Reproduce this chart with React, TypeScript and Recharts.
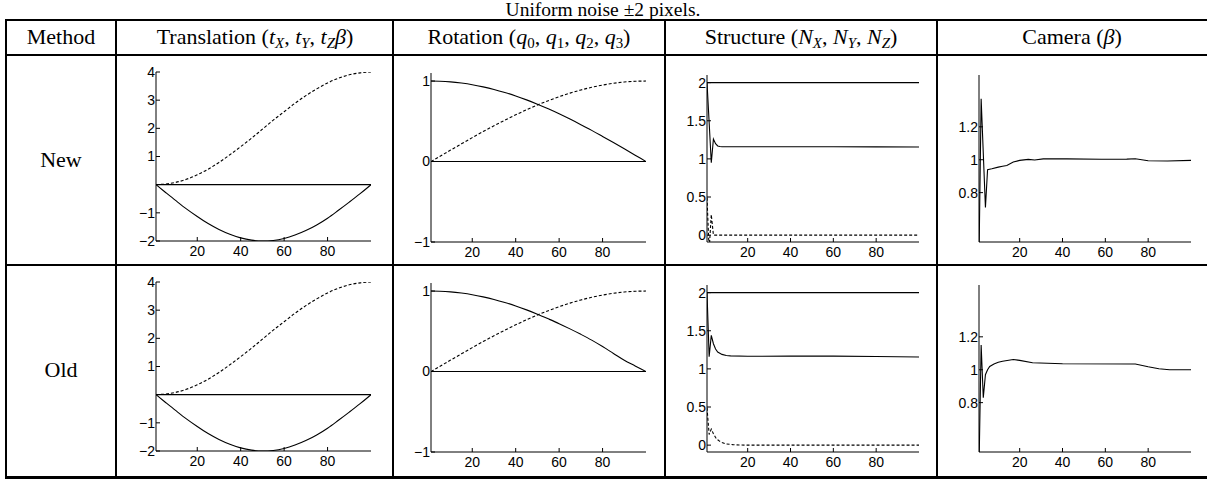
import React from 'react'
import { Line, LineChart, XAxis, YAxis } from 'recharts'

// shared x ticks (frame index 1..100)
const xTicks = [20, 40, 60, 80]
const smoothX = [1, 5, 10, 15, 20, 25, 30, 35, 40, 45, 50, 55, 60, 65, 70, 75, 80, 85, 90, 95, 100]
const flatX = [1, 100]

// Translation (t_X, t_Y, t_Z beta)
const transTicks = [-2, -1, 1, 2, 3, 4]
const transRise = [0, 0.02, 0.08, 0.19, 0.35, 0.55, 0.79, 1.06, 1.35, 1.65, 1.97, 2.29, 2.59, 2.89, 3.16, 3.4, 3.61, 3.78, 3.9, 3.97, 4]
const transBowl = [0, -0.25, -0.56, -0.86, -1.13, -1.38, -1.59, -1.76, -1.89, -1.97, -2, -1.98, -1.91, -1.79, -1.63, -1.43, -1.19, -0.91, -0.62, -0.32, 0]
const transZero = [0, 0]

// Rotation (q0..q3)
const rotTicks = [-1, 0, 1]
const rotFallNew = [1, 0.998, 0.99, 0.975, 0.955, 0.928, 0.896, 0.858, 0.815, 0.766, 0.713, 0.655, 0.593, 0.527, 0.458, 0.387, 0.312, 0.236, 0.158, 0.079, 0]
const rotFallOld = [1, 0.998, 0.99, 0.975, 0.955, 0.928, 0.896, 0.858, 0.815, 0.766, 0.713, 0.655, 0.595, 0.53, 0.462, 0.39, 0.31, 0.225, 0.14, 0.07, 0]
const rotRise = [0, 0.063, 0.142, 0.22, 0.297, 0.372, 0.444, 0.514, 0.58, 0.643, 0.702, 0.756, 0.805, 0.85, 0.889, 0.922, 0.95, 0.972, 0.988, 0.997, 1]
const rotZero = [0, 0]

// Structure (N_X, N_Y, N_Z)
const structTicks = [0, 0.5, 1, 1.5, 2]
const structTop = [2, 2]
const structNewMidX = [1, 2, 3, 4, 5, 6, 7, 8, 10, 15, 20, 40, 60, 80, 100]
const structNewMid = [2, 1.48, 0.95, 1.26, 1.2, 1.17, 1.163, 1.16, 1.16, 1.16, 1.16, 1.16, 1.16, 1.158, 1.155]
const structNewLowX = [1, 2, 3, 4, 100]
const structNewLow = [0.49, -0.2, 0.27, 0, 0]
const structOldMidX = [1, 2, 3, 4, 5, 6, 8, 10, 12, 20, 40, 60, 80, 100]
const structOldMid = [2, 1.16, 1.44, 1.33, 1.26, 1.22, 1.19, 1.175, 1.17, 1.165, 1.167, 1.167, 1.163, 1.155]
const structOldLowX = [1, 2, 3, 4, 5, 6, 7, 8, 10, 13, 16, 20, 100]
const structOldLow = [0.49, 0.14, 0.21, 0.15, 0.1, 0.07, 0.05, 0.035, 0.015, 0.007, 0.002, 0, 0]

// Camera (beta)
const camTicks = [0.8, 1, 1.2]
const camNewX = [1, 2, 4, 5, 7, 10, 12, 14, 17, 20, 24, 27, 31, 42, 58, 70, 74, 80, 89, 100]
const camNew = [0.4, 1.37, 0.71, 0.94, 0.945, 0.955, 0.96, 0.965, 0.986, 0.996, 1.002, 0.998, 1.005, 1.005, 1.003, 1.004, 1.006, 0.994, 0.992, 0.996]
const camOldX = [1, 2, 3, 4, 5, 6, 8, 10, 12, 17, 20, 26, 40, 74, 80, 85, 90, 100]
const camOld = [0.4, 1.15, 0.83, 0.97, 1.0, 1.02, 1.035, 1.045, 1.052, 1.062, 1.057, 1.042, 1.036, 1.035, 1.018, 1.006, 1.0, 1.0]

type Series = { x: number[]; y: number[]; dashed?: boolean; smooth?: boolean }

const sans = '"Liberation Sans", Arial, Helvetica, sans-serif'
const serif = '"Liberation Serif", "Times New Roman", serif'

const fmt = (v: number) => (v < 0 ? '\u2212' + Math.abs(v) : String(v))

function Plot({
  left,
  top,
  w,
  h,
  domain,
  ticks,
  series,
}: {
  left: number
  top: number
  w: number
  h: number
  domain: [number, number]
  ticks: number[]
  series: Series[]
}) {
  const tickStyle = { fill: '#000', fontSize: 14, fontFamily: sans }
  return (
    <div style={{ position: 'absolute', left: left - 40, top: top - 12 }}>
      <LineChart width={w + 45} height={h + 37} margin={{ top: 12, right: 5, bottom: 5, left: 5 }}>
        <XAxis
          xAxisId="b"
          type="number"
          dataKey="x"
          domain={[1, 100]}
          allowDataOverflow
          ticks={xTicks}
          interval={0}
          tickSize={-4}
          tickMargin={9}
          height={20}
          stroke="#000"
          tick={tickStyle}
        />
        <XAxis
          xAxisId="t"
          orientation="top"
          type="number"
          dataKey="x"
          domain={[1, 100]}
          allowDataOverflow
          ticks={xTicks}
          interval={0}
          tickSize={-4}
          tick={false}
          height={0}
          stroke="#000"
        />
        <YAxis
          yAxisId="l"
          type="number"
          domain={domain}
          allowDataOverflow
          ticks={ticks}
          interval={0}
          tickSize={-4}
          tickMargin={5}
          width={35}
          stroke="#000"
          tick={tickStyle}
          tickFormatter={fmt}
        />
        <YAxis
          yAxisId="r"
          orientation="right"
          type="number"
          domain={domain}
          allowDataOverflow
          ticks={ticks}
          interval={0}
          tickSize={-4}
          tick={false}
          width={0}
          stroke="#000"
        />
        {series.map((s, i) => (
          <Line
            key={i}
            xAxisId="b"
            yAxisId="l"
            data={s.x.map((x, j) => ({ x, y: s.y[j] }))}
            dataKey="y"
            type={s.smooth ? 'monotone' : 'linear'}
            stroke="#000"
            strokeWidth={1.1}
            strokeDasharray={s.dashed ? '3 2' : undefined}
            dot={false}
            activeDot={false}
            isAnimationActive={false}
          />
        ))}
      </LineChart>
    </div>
  )
}

const Sub = ({ children }: { children: React.ReactNode }) => (
  <sub style={{ fontSize: '0.68em', verticalAlign: '-0.25em', fontStyle: 'normal' }}>{children}</sub>
)

function HLine({ y, x1, x2, t }: { y: number; x1: number; x2: number; t: number }) {
  return <div style={{ position: 'absolute', left: x1, top: y - t / 2, width: x2 - x1, height: t, background: '#000' }} />
}
function VLine({ x, y1, y2 }: { x: number; y1: number; y2: number }) {
  return <div style={{ position: 'absolute', left: x - 0.75, top: y1, width: 1.5, height: y2 - y1, background: '#000' }} />
}

function Cell({ cx, cy, size, children }: { cx: number; cy: number; size: number; children: React.ReactNode }) {
  return (
    <div
      style={{
        position: 'absolute',
        left: cx - 150,
        top: cy - 15,
        width: 300,
        height: 30,
        lineHeight: '30px',
        textAlign: 'center',
        fontFamily: serif,
        fontSize: size,
        whiteSpace: 'nowrap',
      }}
    >
      {children}
    </div>
  )
}

export default function App() {
  const rowOff = 210
  const fs = 22
  const trans = (rise: number[], bowl: number[]): Series[] => [
    { x: smoothX, y: rise, dashed: true, smooth: true },
    { x: flatX, y: transZero },
    { x: smoothX, y: bowl, smooth: true },
  ]
  const rot = (fall: number[]): Series[] => [
    { x: smoothX, y: fall, smooth: true },
    { x: smoothX, y: rotRise, dashed: true, smooth: true },
    { x: flatX, y: rotZero },
  ]
  return (
    <div style={{ position: 'absolute', left: 0, top: 0, width: 1207, height: 481, background: '#fff', color: '#000' }}>
      <Cell cx={603} cy={9.5} size={19.5}>Uniform noise ±2 pixels.</Cell>
      <HLine y={19.5} x1={5} x2={1207} t={2} />
      <HLine y={55} x1={5} x2={1207} t={2} />
      <HLine y={265} x1={5} x2={1207} t={2} />
      <HLine y={477.5} x1={5} x2={1207} t={2.5} />
      {[6, 116, 393, 665, 937].map((x) => (
        <VLine key={x} x={x} y1={19} y2={478} />
      ))}

      <Cell cx={61} cy={37} size={fs}>Method</Cell>
      <Cell cx={255} cy={37} size={fs}>
        Translation (<i>t</i><Sub><i>X</i></Sub>, <i>t</i><Sub><i>Y</i></Sub>, <i>t</i><Sub><i>Z</i></Sub><i>β</i>)
      </Cell>
      <Cell cx={529} cy={37} size={fs}>
        Rotation (<i>q</i><Sub>0</Sub>, <i>q</i><Sub>1</Sub>, <i>q</i><Sub>2</Sub>, <i>q</i><Sub>3</Sub>)
      </Cell>
      <Cell cx={801} cy={37} size={fs}>
        Structure (<i>N</i><Sub><i>X</i></Sub>, <i>N</i><Sub><i>Y</i></Sub>, <i>N</i><Sub><i>Z</i></Sub>)
      </Cell>
      <Cell cx={1072} cy={37} size={fs}>
        Camera (<i>β</i>)
      </Cell>

      <Cell cx={61} cy={160} size={fs}>New</Cell>
      <Cell cx={61} cy={370} size={fs}>Old</Cell>

      <Plot left={156} top={72} w={215} h={169} domain={[-2, 4]} ticks={transTicks} series={trans(transRise, transBowl)} />
      <Plot left={431} top={73} w={215} h={169} domain={[-1, 1.1]} ticks={rotTicks} series={rot(rotFallNew)} />
      <Plot
        left={707}
        top={75}
        w={212}
        h={167}
        domain={[-0.09, 2.1]}
        ticks={structTicks}
        series={[
          { x: flatX, y: structTop },
          { x: structNewMidX, y: structNewMid },
          { x: structNewLowX, y: structNewLow, dashed: true },
        ]}
      />
      <Plot left={979} top={75} w={212} h={167} domain={[0.5, 1.515]} ticks={camTicks} series={[{ x: camNewX, y: camNew }]} />

      <Plot left={156} top={72 + rowOff} w={215} h={169} domain={[-2, 4]} ticks={transTicks} series={trans(transRise, transBowl)} />
      <Plot left={431} top={73 + rowOff} w={215} h={169} domain={[-1, 1.1]} ticks={rotTicks} series={rot(rotFallOld)} />
      <Plot
        left={707}
        top={75 + rowOff}
        w={212}
        h={167}
        domain={[-0.09, 2.1]}
        ticks={structTicks}
        series={[
          { x: flatX, y: structTop },
          { x: structOldMidX, y: structOldMid },
          { x: structOldLowX, y: structOldLow, dashed: true },
        ]}
      />
      <Plot left={979} top={75 + rowOff} w={212} h={167} domain={[0.5, 1.515]} ticks={camTicks} series={[{ x: camOldX, y: camOld }]} />
    </div>
  )
}
